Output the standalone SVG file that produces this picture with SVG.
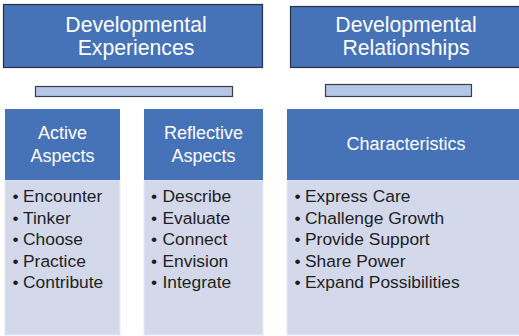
<svg xmlns="http://www.w3.org/2000/svg" width="519" height="336" viewBox="0 0 519 336">
  <style>
    .title { fill: #4672b8; stroke: #2b3340; stroke-width: 1.2; }
    .bar { fill: #b3c6e6; stroke: #3a3f47; stroke-width: 1.2; }
    .head { fill: #4672b8; }
    .body { fill: #d3d9eb; stroke: #e6eaf3; stroke-width: 1; }
    .tt { font-family: "Liberation Sans", Arial, sans-serif; font-size: 21.2px; fill: #ffffff; text-anchor: middle; }
    .ht { font-family: "Liberation Sans", Arial, sans-serif; font-size: 18px; fill: #ffffff; text-anchor: middle; }
    .li { font-family: "Liberation Sans", Arial, sans-serif; font-size: 17.4px; fill: #1e1e1e; }
    .dot { font-family: "Liberation Sans", Arial, sans-serif; font-size: 17.4px; fill: #1e1e1e; text-anchor: middle; }
  </style>
  <rect width="519" height="336" fill="#ffffff"/>

  <g id="experiences">
    <rect class="title" x="3.5" y="4.5" width="259" height="63"/>
    <text class="tt" x="136" y="32">Developmental</text>
    <text class="tt" x="136" y="55">Experiences</text>
  </g>
  <g id="relationships">
    <rect class="title" x="290.5" y="6.5" width="240" height="61"/>
    <text class="tt" x="406" y="32">Developmental</text>
    <text class="tt" x="406" y="55">Relationships</text>
  </g>

  <g id="bar-experiences">
    <rect class="bar" x="35.5" y="86.5" width="197" height="10"/>
  </g>
  <g id="bar-relationships">
    <rect class="bar" x="325.5" y="84.5" width="146" height="12"/>
  </g>

  <g id="active">
    <rect class="body" x="5" y="180" width="115" height="155"/>
    <rect class="head" x="5" y="109" width="115" height="71"/>
    <text class="ht" x="62.5" y="139">Active</text>
    <text class="ht" x="62.5" y="162">Aspects</text>
    <g class="dot">
      <text x="15.5" y="202">•</text>
      <text x="15.5" y="223.5">•</text>
      <text x="15.5" y="245">•</text>
      <text x="15.5" y="266.5">•</text>
      <text x="15.5" y="288">•</text>
    </g>
    <g class="li">
      <text x="23" y="202">Encounter</text>
      <text x="23" y="223.5">Tinker</text>
      <text x="23" y="245">Choose</text>
      <text x="23" y="266.5">Practice</text>
      <text x="23" y="288">Contribute</text>
    </g>
  </g>

  <g id="reflective">
    <rect class="body" x="144" y="180" width="119" height="155"/>
    <rect class="head" x="144" y="109" width="119" height="71"/>
    <text class="ht" x="203.5" y="139">Reflective</text>
    <text class="ht" x="203.5" y="162">Aspects</text>
    <g class="dot">
      <text x="154" y="202">•</text>
      <text x="154" y="223.5">•</text>
      <text x="154" y="245">•</text>
      <text x="154" y="266.5">•</text>
      <text x="154" y="288">•</text>
    </g>
    <g class="li">
      <text x="162.5" y="202">Describe</text>
      <text x="162.5" y="223.5">Evaluate</text>
      <text x="162.5" y="245">Connect</text>
      <text x="162.5" y="266.5">Envision</text>
      <text x="162.5" y="288">Integrate</text>
    </g>
  </g>

  <g id="characteristics">
    <rect class="body" x="287" y="180" width="240" height="155"/>
    <rect class="head" x="287" y="109" width="240" height="71"/>
    <text class="ht" x="406" y="150">Characteristics</text>
    <g class="dot">
      <text x="297.5" y="202">•</text>
      <text x="297.5" y="223.5">•</text>
      <text x="297.5" y="245">•</text>
      <text x="297.5" y="266.5">•</text>
      <text x="297.5" y="288">•</text>
    </g>
    <g class="li">
      <text x="305" y="202">Express Care</text>
      <text x="305" y="223.5">Challenge Growth</text>
      <text x="305" y="245">Provide Support</text>
      <text x="305" y="266.5">Share Power</text>
      <text x="305" y="288">Expand Possibilities</text>
    </g>
  </g>
</svg>
